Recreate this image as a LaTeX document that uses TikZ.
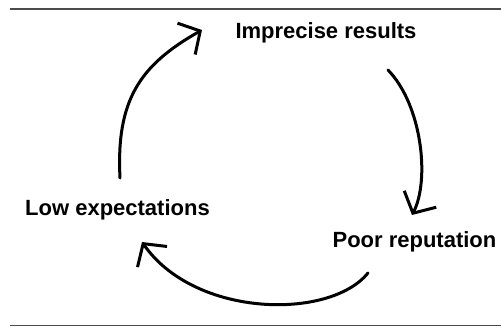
\documentclass[tikz,border=0pt]{standalone}
\usepackage{fontspec}
\setmainfont{Liberation Sans}
\usepackage{tikz}
\usetikzlibrary{arrows.meta}
\definecolor{rulegray}{rgb}{0.3,0.3,0.3}

\begin{document}
\begin{tikzpicture}[x=1pt,y=-1pt,
  cyctext/.style={font=\bfseries\fontsize{22}{26}\selectfont, anchor=base, inner sep=0pt},
  cycarrow/.style={line width=3pt, line cap=round, -{Straight Barb[length=16pt,width=36pt]}}]
\useasboundingbox (0,0) rectangle (501,327);

\draw[rulegray, line width=1.5pt] (10,9) -- (501,9);
\draw[rulegray, line width=1.5pt] (10,325.5) -- (501,325.5);

\node[cyctext] (imprecise) at (326,38) {Imprecise results};
\node[cyctext] (poor) at (414.5,247) {Poor reputation};
\node[cyctext] (low) at (117.5,215) {Low expectations};

\coordinate (low out) at (120,178);
\coordinate (imprecise in) at (202,30);
\coordinate (imprecise out) at (388,70);
\coordinate (poor in) at (412,215);
\coordinate (poor out) at (368,273);
\coordinate (low in) at (142,242);

\draw[cycarrow] (low out) .. controls (116,100) and (140,65) .. (imprecise in);
\draw[cycarrow] (imprecise out) .. controls (422,105) and (430,180) .. (poor in);
\draw[cycarrow] (poor out) .. controls (330,320) and (195,318) .. (low in);
\end{tikzpicture}
\end{document}
